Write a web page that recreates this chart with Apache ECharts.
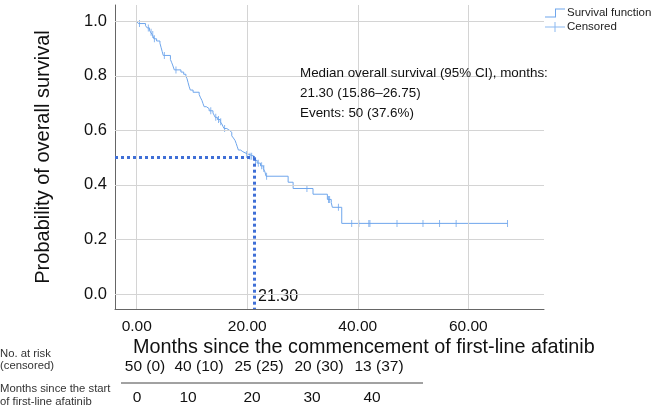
<!DOCTYPE html>
<html><head><meta charset="utf-8">
<script src="https://cdn.jsdelivr.net/npm/echarts@6/dist/echarts.min.js"></script>
<style>html,body{margin:0;padding:0;background:#fff;}#c{width:654px;height:413px;}</style>
</head><body><div id="c"></div>
<script>
// ---- data ----
const eventTimes = [0,0.3,1.6,1.9,2.3,2.5,2.8,3.0,3.1,3.6,4.2,4.4,4.6,4.8,6.1,6.3,6.5,6.8,8.0,8.5,8.9,9.1,9.3,9.5,9.7,10.2,11.3,11.5,11.8,12.0,12.2,12.6,13.1,13.8,14.0,14.2,14.6,15.1,15.4,15.6,15.8,16.3,16.8,17.2,17.5,17.8,18.0,18.2,18.4,18.8,19.2,19.8,20.3,21.3,21.8,22.4,22.9,23.2,23.4,27.4,28.3,31.9,34.5,35.2,35.4,37.1,67.1];
const survival = [1,0.992,0.984,0.976,0.968,0.96,0.952,0.944,0.936,0.928,0.92,0.905,0.89,0.875,0.86,0.85,0.84,0.822,0.814,0.806,0.798,0.79,0.775,0.76,0.748,0.74,0.732,0.722,0.71,0.698,0.687,0.68,0.672,0.664,0.656,0.648,0.64,0.632,0.624,0.615,0.607,0.6,0.593,0.58,0.572,0.563,0.552,0.54,0.528,0.522,0.516,0.512,0.505,0.49,0.48,0.47,0.46,0.448,0.432,0.41,0.387,0.366,0.347,0.335,0.318,0.259,0.259];
const censoredTimes = [0.5,2.1,2.6,2.9,3.2,5.0,7.1,13.4,14.3,14.8,15.2,15.9,19.9,20.5,20.8,21.5,22.0,22.6,23.0,23.5,30.8,34.7,34.9,36.5,38.9,40.2,42.0,42.2,47.1,51.8,54.8,57.8,67.1];
const xTicks = [0,20,40,60];
const yTicks = [0,0.2,0.4,0.6,0.8,1.0];
const medianTime = 21.30;
const medianS = 0.5;
const riskTimes = [0,10,20,30,40];
const riskN = [50,40,25,20,13];
const riskCens = [0,10,25,30,37];
const annotation = ['Median overall survival (95% CI), months:','21.30 (15.86\u201326.75)','Events: 50 (37.6%)'];

// ---- build ----
const X_MIN = -3.93, X_MAX = 73.7, Y_MIN = -0.055, Y_MAX = 1.06;
const curve = eventTimes.map((t,i)=>[t,survival[i]]);
function sAt(t){let s=1;for(let i=0;i<eventTimes.length;i++){if(eventTimes[i]<=t)s=survival[i];}return s;}
const cens = censoredTimes.map(t=>[t,sAt(t)]);
const FONT = '"Liberation Sans", Arial, Helvetica, sans-serif';
const gridColor = '#d4d4d4';
const curveColor = '#6fa6ec';
const medColor = '#3f6fd6';

const gridLines = [];
xTicks.forEach(v=>gridLines.push([{coord:[v,Y_MIN]},{coord:[v,Y_MAX]}]));
yTicks.forEach(v=>gridLines.push([{coord:[X_MIN,v]},{coord:[X_MAX,v]}]));

const chart = echarts.init(document.getElementById('c'),null,{renderer:'canvas'});
const L=115, R=544, T=5, B=309;
const riskX = [145,199,259,319,379];
const timeX = [137,188,252,312,372];
const graphics = [];
function txt(x,y,s,size,align,fill){return {type:'text',x:x,y:y,style:{text:s,font:size+'px '+FONT,fill:fill||'#111',textAlign:align||'left',textVerticalAlign:'middle'}};}
riskN.forEach((n,i)=>graphics.push(txt(riskX[i],366.5,n+' ('+riskCens[i]+')',15.5,'center')));
riskTimes.forEach((t,i)=>graphics.push(txt(timeX[i],398,String(t),15.5,'center')));
graphics.push({type:'line',shape:{x1:121,y1:383,x2:423,y2:383},style:{stroke:'#444',lineWidth:1}});
graphics.push(txt(0,354,'No. at risk',11.3,'left','#333'));
graphics.push(txt(0,366,'(censored)',11.3,'left','#333'));
graphics.push(txt(0,389,'Months since the start',11.3,'left','#333'));
graphics.push(txt(0,402,'of first-line afatinib',11.3,'left','#333'));
graphics.push(txt(133,347.5,'Months since the commencement of first-line afatinib',19.8,'left'));
graphics.push(txt(258,297,medianTime.toFixed(2),16,'left'));
graphics.push({type:'rect',shape:{x:296,y:61,width:252,height:64},style:{fill:'#fff'},z:5});
annotation.forEach((s,i)=>{const g=txt(300,73+i*20.2,s,13.4,'left');g.z=6;graphics.push(g);});

chart.setOption({
  animation:false,
  backgroundColor:'#fff',
  textStyle:{fontFamily:FONT},
  grid:{left:L,right:654-R,top:T,bottom:413-B,containLabel:false},
  legend:{
    orient:'vertical',left:545,top:7,itemGap:2,itemWidth:20,itemHeight:10,padding:0,
    textStyle:{fontSize:11.5,color:'#222',padding:[0,0,0,-3]},
    data:[
      {name:'Survival function',icon:'path://M0,9 L10,9 L10,1 L20,1 L20,2 L11,2 L11,10 L0,10 Z'},
      {name:'Censored',icon:'path://M0,4.5 L9.5,4.5 L9.5,0 L10.5,0 L10.5,4.5 L20,4.5 L20,5.5 L10.5,5.5 L10.5,10 L9.5,10 L9.5,5.5 L0,5.5 Z'}
    ]
  },
  xAxis:{type:'value',min:X_MIN,max:X_MAX,
    axisLine:{show:true,onZero:false,lineStyle:{color:'#666'}},
    axisTick:{show:false,customValues:xTicks},
    splitLine:{show:false},
    axisLabel:{customValues:xTicks,formatter:v=>v.toFixed(2),fontSize:15.5,color:'#111',margin:10,fontFamily:FONT}
  },
  yAxis:{type:'value',min:Y_MIN,max:Y_MAX,
    name:'Probability of overall survival',nameLocation:'middle',nameGap:62,
    nameTextStyle:{fontSize:20,color:'#111',fontFamily:FONT},
    axisLine:{show:true,onZero:false,lineStyle:{color:'#666'}},
    axisTick:{show:false,customValues:yTicks},
    splitLine:{show:false},
    axisLabel:{customValues:yTicks,formatter:v=>v.toFixed(1),fontSize:16.5,color:'#111',margin:8,fontFamily:FONT}
  },
  series:[
    {type:'line',name:'grid',data:[],silent:true,z:0,
      markLine:{silent:true,symbol:'none',label:{show:false},animation:false,
        lineStyle:{color:gridColor,type:'solid',width:1},data:gridLines}},
    {type:'line',name:'Survival function',data:curve,step:'end',showSymbol:false,symbol:'none',
      lineStyle:{color:curveColor,width:1},itemStyle:{color:curveColor},z:3},
    {type:'scatter',name:'Censored',data:cens,symbol:'rect',symbolSize:[1,7],
      itemStyle:{color:curveColor},z:3},
    {type:'line',name:'median',data:[],z:4,
      markLine:{silent:true,symbol:'none',label:{show:false},animation:false,
        lineStyle:{color:medColor,type:[3,3],width:3},
        data:[
          [{coord:[X_MIN,medianS]},{coord:[medianTime,medianS]}],
          [{coord:[medianTime,medianS]},{coord:[medianTime,Y_MIN]}]
        ]}}
  ],
  graphic:graphics
});
</script></body></html>
